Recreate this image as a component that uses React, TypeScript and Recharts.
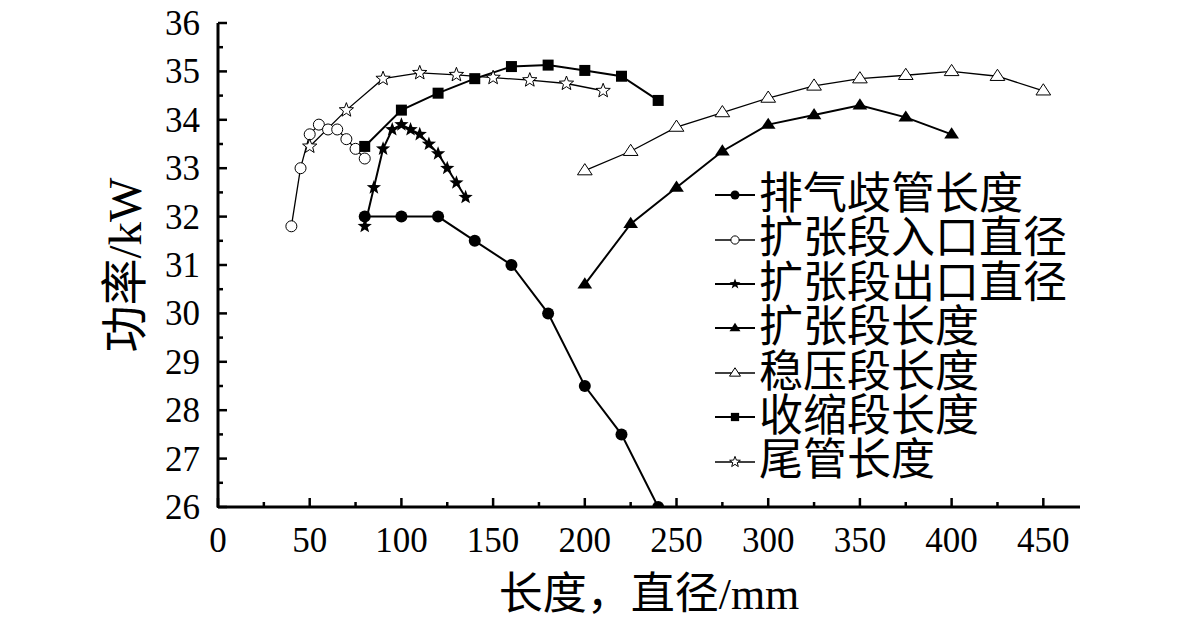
import React from 'react';
import { LineChart, Line, XAxis, YAxis, Legend, ReferenceLine } from 'recharts';

// x = length / diameter (mm), y = power (kW)
const manifoldX = [80, 100, 120, 140, 160, 180, 200, 220, 240];
const manifoldY = [32, 32, 32, 31.5, 31, 30, 28.5, 27.5, 26];

const inletDiaX = [40, 45, 50, 55, 60, 65, 70, 75, 80];
const inletDiaY = [31.8, 33.0, 33.7, 33.9, 33.8, 33.8, 33.6, 33.4, 33.2];

const outletDiaX = [80, 85, 90, 95, 100, 105, 110, 115, 120, 125, 130, 135];
const outletDiaY = [31.8, 32.6, 33.4, 33.8, 33.9, 33.8, 33.7, 33.5, 33.3, 33.0, 32.7, 32.4];

const diffuserLenX = [200, 225, 250, 275, 300, 325, 350, 375, 400];
const diffuserLenY = [30.6, 31.85, 32.6, 33.35, 33.9, 34.1, 34.3, 34.05, 33.7];

const bellyLenX = [200, 225, 250, 275, 300, 325, 350, 375, 400, 425, 450];
const bellyLenY = [32.95, 33.35, 33.85, 34.15, 34.45, 34.7, 34.85, 34.92, 35.0, 34.9, 34.6];

const coneLenX = [80, 100, 120, 140, 160, 180, 200, 220, 240];
const coneLenY = [33.45, 34.2, 34.55, 34.85, 35.1, 35.13, 35.02, 34.9, 34.4];

const tailLenX = [50, 70, 90, 110, 130, 150, 170, 190, 210];
const tailLenY = [33.45, 34.2, 34.85, 34.97, 34.93, 34.87, 34.82, 34.75, 34.6];

const xTicks = [0, 50, 100, 150, 200, 250, 300, 350, 400, 450];
const xMinorTicks = [25, 75, 125, 175, 225, 275, 325, 375, 425];
const yTicks = [26, 27, 28, 29, 30, 31, 32, 33, 34, 35, 36];
const yMinorTicks = [26.5, 27.5, 28.5, 29.5, 30.5, 31.5, 32.5, 33.5, 34.5, 35.5];

const FONT = '"Liberation Serif", "Times New Roman", "Noto Sans CJK SC", serif';

const X_MAX = 470;
const PLOT_W = 862;
const pxToX = (px: number) => (px * X_MAX) / PLOT_W;

type MarkerKind = 'circle' | 'circleOpen' | 'star' | 'triangle' | 'triangleOpen' | 'square' | 'starOpen';

const toPoints = (xs: number[], ys: number[]) => xs.map((x, i) => ({ x, y: ys[i] }));

const series: { name: string; kind: MarkerKind; width: number; data: { x: number; y: number }[] }[] = [
  { name: '排气歧管长度', kind: 'circle', width: 2, data: toPoints(manifoldX, manifoldY) },
  { name: '扩张段入口直径', kind: 'circleOpen', width: 1.3, data: toPoints(inletDiaX, inletDiaY) },
  { name: '扩张段出口直径', kind: 'star', width: 2, data: toPoints(outletDiaX, outletDiaY) },
  { name: '扩张段长度', kind: 'triangle', width: 2, data: toPoints(diffuserLenX, diffuserLenY) },
  { name: '稳压段长度', kind: 'triangleOpen', width: 1.3, data: toPoints(bellyLenX, bellyLenY) },
  { name: '收缩段长度', kind: 'square', width: 2, data: toPoints(coneLenX, coneLenY) },
  { name: '尾管长度', kind: 'starOpen', width: 1.3, data: toPoints(tailLenX, tailLenY) },
];

const allXTicks = [...xTicks, ...xMinorTicks].sort((a, b) => a - b);
const allYTicks = [...yTicks, ...yMinorTicks].sort((a, b) => a - b);

const starPath = (cx: number, cy: number, R: number) => {
  const r = R * 0.42;
  let d = '';
  for (let i = 0; i < 10; i++) {
    const rad = i % 2 === 0 ? R : r;
    const a = -Math.PI / 2 + (i * Math.PI) / 5;
    d += (i === 0 ? 'M' : 'L') + (cx + rad * Math.cos(a)).toFixed(2) + ',' + (cy + rad * Math.sin(a)).toFixed(2);
  }
  return d + 'Z';
};

const Marker = ({ kind, cx, cy, scale = 1 }: { kind: MarkerKind; cx: number; cy: number; scale?: number }) => {
  if (cx == null || cy == null) return null;
  switch (kind) {
    case 'circle':
      return <circle cx={cx} cy={cy} r={6 * scale} fill="#000" />;
    case 'circleOpen':
      return <circle cx={cx} cy={cy} r={5.5 * scale} fill="#fff" stroke="#000" strokeWidth={1} />;
    case 'star':
      return <path d={starPath(cx, cy, 7.5 * scale)} fill="#000" />;
    case 'starOpen':
      return <path d={starPath(cx, cy, 7.5 * scale)} fill="#fff" stroke="#000" strokeWidth={1} />;
    case 'triangle': {
      const s = 7 * scale;
      return <path d={`M${cx},${cy - s}L${cx + s * 1.05},${cy + s * 0.6}L${cx - s * 1.05},${cy + s * 0.6}Z`} fill="#000" />;
    }
    case 'triangleOpen': {
      const s = 7 * scale;
      return (
        <path
          d={`M${cx},${cy - s}L${cx + s * 1.05},${cy + s * 0.6}L${cx - s * 1.05},${cy + s * 0.6}Z`}
          fill="#fff"
          stroke="#000"
          strokeWidth={1}
        />
      );
    }
    case 'square':
      return <rect x={cx - 5.5 * scale} y={cy - 5.5 * scale} width={11 * scale} height={11 * scale} fill="#000" />;
  }
  return null;
};

const LegendContent = () => (
  <div style={{ fontFamily: FONT, fontSize: 44, lineHeight: '44.4px', color: '#000' }}>
    {series.map((s) => (
      <div key={s.name} style={{ display: 'flex', alignItems: 'center', height: 44.4, whiteSpace: 'nowrap' }}>
        <svg width={40} height={20} style={{ marginRight: 4 }}>
          <line x1={0} y1={10} x2={40} y2={10} stroke="#000" strokeWidth={s.width} />
          <Marker kind={s.kind} cx={20} cy={10} scale={0.75} />
        </svg>
        <span>{s.name}</span>
      </div>
    ))}
  </div>
);

const YLabel = (props: any) => {
  const vb = props.viewBox || { x: 0, y: 0, width: 0, height: 0 };
  const cx = vb.x + 125;
  const cy = vb.y + vb.height / 2;
  return (
    <text
      x={cx}
      y={cy}
      transform={`rotate(-90 ${cx} ${cy})`}
      textAnchor="middle"
      dominantBaseline="central"
      style={{ fontFamily: FONT }}
      fontSize={47}
      fill="#000"
    >
      功率/kW
    </text>
  );
};

const XLabel = (props: any) => {
  const vb = props.viewBox || { x: 0, y: 0, width: 0, height: 0 };
  return (
    <text x={vb.x + vb.width / 2} y={vb.y + 102} textAnchor="middle" style={{ fontFamily: FONT }} fontSize={44} fill="#000">
      长度，直径/mm
    </text>
  );
};

// ticks point inward; minor ticks are shorter and carry no label
const renderXTick = (props: any) => {
  const v = props.payload.value;
  const major = xTicks.includes(v);
  return (
    <g key={`xt-${v}`}>
      <line x1={props.x} y1={props.y + 1} x2={props.x} y2={props.y - (major ? 9 : 5)} stroke="#000" strokeWidth={2.5} />
      {major && (
        <text x={props.x} y={props.y + 20} dy="0.71em" textAnchor="middle" style={{ fontFamily: FONT }} fontSize={35} fill="#000">
          {v}
        </text>
      )}
    </g>
  );
};

const renderYTick = (props: any) => {
  const v = props.payload.value;
  const major = yTicks.includes(v);
  return (
    <g key={`yt-${v}`}>
      {major && (
        <text x={props.x - 18} y={props.y} dy="0.34em" textAnchor="end" style={{ fontFamily: FONT }} fontSize={35} fill="#000">
          {v}
        </text>
      )}
    </g>
  );
};

const axisStroke = { stroke: '#000', strokeWidth: 3 };

export default function App() {
  return (
    <div style={{ position: 'absolute', left: 0, top: 0, width: 1181, height: 623, background: '#fff', fontFamily: FONT }}>
      <LineChart width={1181} height={623} margin={{ top: 23, right: 101, left: 0, bottom: 0 }}>
        <XAxis
          xAxisId="main"
          type="number"
          dataKey="x"
          domain={[0, X_MAX]}
          allowDataOverflow
          ticks={allXTicks}
          interval={0}
          tick={renderXTick}
          tickLine={false}
          tickSize={0}
          tickMargin={0}
          axisLine={axisStroke}
          height={116}
          label={{ content: XLabel }}
        />
        <XAxis xAxisId="top" orientation="top" type="number" domain={[0, X_MAX]} height={0} tick={false} tickLine={false} axisLine={axisStroke} />
        <YAxis yAxisId="right" orientation="right" type="number" domain={[26, 36]} width={0} tick={false} tickLine={false} axisLine={axisStroke} />
        <YAxis
          yAxisId="main"
          type="number"
          dataKey="y"
          domain={[26, 36]}
          allowDataOverflow
          ticks={allYTicks}
          interval={0}
          tick={renderYTick}
          tickLine={false}
          tickSize={0}
          tickMargin={0}
          axisLine={axisStroke}
          width={218}
          label={{ content: YLabel }}
        />
        {allYTicks.map((v) => (
          <ReferenceLine
            key={`ytl-${v}`}
            xAxisId="main"
            yAxisId="main"
            segment={[
              { x: 0, y: v },
              { x: pxToX(yTicks.includes(v) ? 9 : 5), y: v },
            ]}
            stroke="#000"
            strokeWidth={2.5}
            ifOverflow="visible"
          />
        ))}
        {series.map((s) => (
          <Line
            key={s.name}
            xAxisId="main"
            yAxisId="main"
            data={s.data}
            dataKey="y"
            name={s.name}
            stroke="#000"
            strokeWidth={s.width}
            isAnimationActive={false}
            activeDot={false}
            dot={(p: any) => <Marker key={`${s.name}-${p.index}`} kind={s.kind} cx={p.cx} cy={p.cy} />}
          />
        ))}
        <Legend
          content={<LegendContent />}
          layout="horizontal"
          verticalAlign="middle"
          align="center"
          wrapperStyle={{ position: 'absolute', left: 715, top: 173, width: 380 }}
        />
      </LineChart>
    </div>
  );
}
